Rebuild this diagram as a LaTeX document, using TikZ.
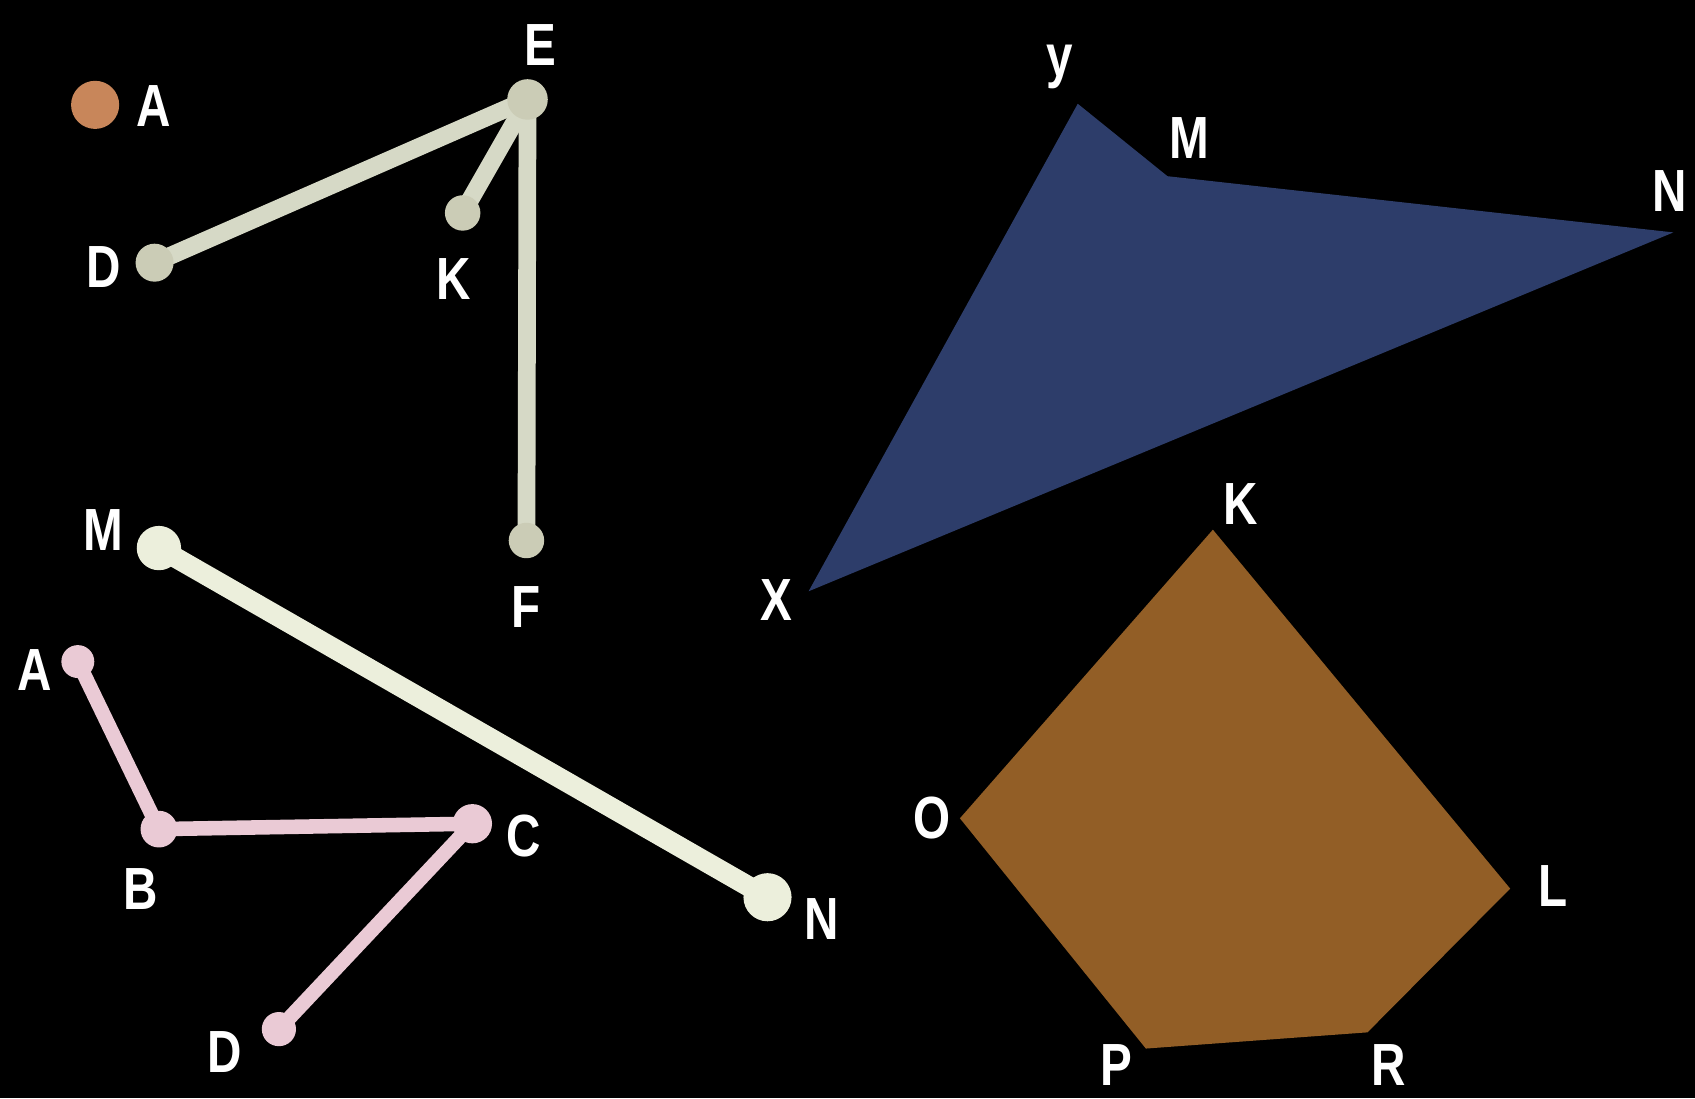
\documentclass[tikz,border=0pt]{standalone}
\usepackage{fontspec}
\setmainfont[FakeStretch=0.8]{Liberation Sans}
\begin{document}
\begin{tikzpicture}[x=0.3mm,y=-0.3mm,
  lbl/.style={text=white,font=\bfseries\fontsize{47}{50}\selectfont,inner sep=0pt,anchor=center},
  greystick/.style={draw=stickgrey,line width=14pt,line cap=round},
  whitestick/.style={draw=stickwhite,line width=16pt,line cap=round},
  pinkstick/.style={draw=stickpink,line width=11.5pt,line cap=round},
  greydot/.style={circle,fill=dotgrey,inner sep=0pt,minimum size=30pt},
  whitedot/.style={circle,fill=stickwhite,inner sep=0pt,minimum size=35pt},
  pinkdot/.style={circle,fill=stickpink,inner sep=0pt,minimum size=27pt}]
\definecolor{stickgrey}{HTML}{D6D9C6}
\definecolor{dotgrey}{HTML}{CBCCB6}
\definecolor{stickwhite}{HTML}{ECEFDC}
\definecolor{stickpink}{HTML}{EACAD5}
\definecolor{dotorange}{HTML}{C8865A}
\definecolor{triblue}{HTML}{2D3D6A}
\definecolor{pentbrown}{HTML}{925E26}
\fill[black] (0,0) rectangle (1568,1016);
\useasboundingbox (0,0) rectangle (1568,1016);
% point A
\node[circle,fill=dotorange,inner sep=0pt,minimum size=38pt] (pA) at (88,97) {};
\node[lbl] (lA) at (142,98) {A};
% E group
\coordinate (cE) at (488,92);
\coordinate (cD) at (143,243);
\coordinate (cK) at (428,197);
\coordinate (cF) at (487,500);
\draw[greystick] (cE) -- (cD);
\draw[greystick] (cE) -- (cK);
\draw[greystick] (cE) -- (cF);
\node[greydot,minimum size=32pt] (E) at (cE) {};
\node[greydot] (D) at (cD) {};
\node[greydot,minimum size=28pt] (K) at (cK) {};
\node[greydot,minimum size=28pt] (F) at (cF) {};
\node[lbl] (lE) at (500,42) {E};
\node[lbl] (lD) at (96,247) {D};
\node[lbl] (lK) at (420,258) {K};
\node[lbl] (lF) at (487,562) {F};
% M-N
\coordinate (cM) at (147,507);
\coordinate (cN) at (710,830);
\draw[whitestick] (cM) -- (cN);
\node[whitedot] (M) at (cM) {};
\node[whitedot,minimum size=38pt] (N) at (cN) {};
\node[lbl] (lM) at (96,490) {M};
\node[lbl] (lN) at (760,850) {N};
% pink broken line
\coordinate (cA2) at (72,612);
\coordinate (cB2) at (147,767);
\coordinate (cC2) at (437,762);
\coordinate (cD2) at (258,952);
\draw[pinkstick,line join=round] (cA2) -- (cB2) -- (cC2) -- (cD2);
\node[pinkdot,minimum size=26pt] (A2) at (cA2) {};
\node[pinkdot,minimum size=29pt] (B2) at (cB2) {};
\node[pinkdot,minimum size=31pt] (C2) at (cC2) {};
\node[pinkdot,minimum size=27pt] (D2) at (cD2) {};
\node[lbl] (lA2) at (32,620) {A};
\node[lbl] (lB2) at (130,822) {B};
\node[lbl] (lC2) at (484,773) {C};
\node[lbl] (lD2) at (208,973) {D};
% blue triangle
\fill[triblue] (997,96) -- (1080,163) -- (1548,215) -- (748,547) -- cycle;
\node[lbl] (ly) at (980,62) {y};
\node[lbl] (lMt) at (1100,128) {M};
\node[lbl] (lNt) at (1545,177) {N};
\node[lbl] (lX) at (718,555) {X};
% brown pentagon
\fill[pentbrown] (1122,490) -- (1397,822) -- (1265,955) -- (1060,970) -- (888,757) -- cycle;
\node[lbl] (lKp) at (1148,466) {K};
\node[lbl] (lO) at (862,757) {O};
\node[lbl] (lL) at (1437,820) {L};
\node[lbl] (lP) at (1033,985) {P};
\node[lbl] (lR) at (1285,985) {R};
\end{tikzpicture}
\end{document}
